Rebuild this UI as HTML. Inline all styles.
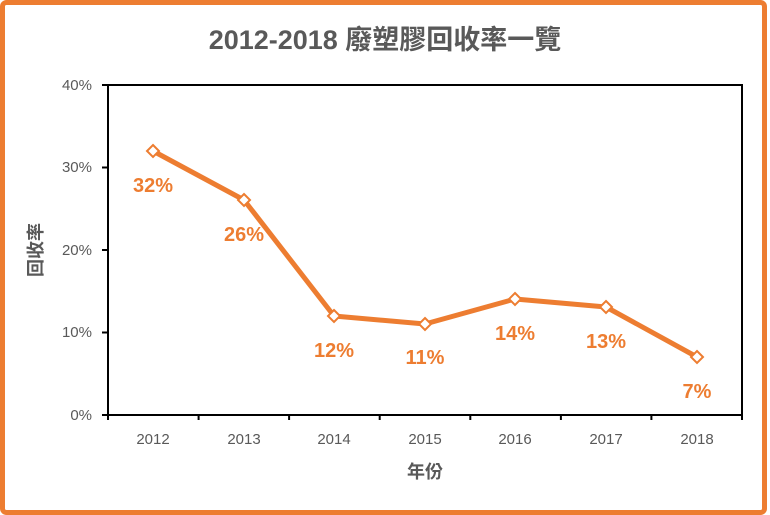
<!DOCTYPE html>
<html><head><meta charset="utf-8"><style>
body{margin:0;background:#fff;}
svg{display:block;}
text{font-family:"Liberation Sans","Noto Sans CJK TC",sans-serif;}
</style></head><body>
<svg width="770" height="515" viewBox="0 0 770 515">
<rect x="2.5" y="2.5" width="762" height="510" rx="4" fill="#fff" stroke="#ED7D31" stroke-width="5"/>
<text x="385" y="49" text-anchor="middle" font-size="27" font-weight="bold" fill="#595959">2012-2018 廢塑膠回收率一覽</text>
<g stroke="#000" stroke-width="2" fill="none">
<rect x="108" y="85" width="634" height="330"/>
<path d="M102 85H108M102 167.5H108M102 250H108M102 332.5H108M102 415H108"/>
<path d="M108 415V420M198.6 415V420M289.1 415V420M379.7 415V420M470.3 415V420M560.9 415V420M651.4 415V420M742 415V420"/>
</g>
<g font-size="15" fill="#595959" text-anchor="end">
<text x="92" y="90">40%</text><text x="92" y="172">30%</text><text x="92" y="255">20%</text><text x="92" y="337">10%</text><text x="92" y="420">0%</text>
</g>
<g font-size="15" fill="#595959" text-anchor="middle">
<text x="153" y="444">2012</text><text x="244" y="444">2013</text><text x="334" y="444">2014</text><text x="425" y="444">2015</text><text x="515" y="444">2016</text><text x="606" y="444">2017</text><text x="697" y="444">2018</text>
</g>
<text x="425" y="478" text-anchor="middle" font-size="18" font-weight="bold" fill="#595959">年份</text>
<text transform="translate(42 250) rotate(-90)" text-anchor="middle" font-size="18" font-weight="bold" fill="#595959">回收率</text>
<polyline points="153,151 244,200 334,316 425,324 515,299 606,307 697,357" fill="none" stroke="#ED7D31" stroke-width="5" stroke-linejoin="round"/>
<g fill="#fff" stroke="#ED7D31" stroke-width="2">
<path d="M153 145l6 6-6 6-6-6z"/><path d="M244 194l6 6-6 6-6-6z"/><path d="M334 310l6 6-6 6-6-6z"/><path d="M425 318l6 6-6 6-6-6z"/><path d="M515 293l6 6-6 6-6-6z"/><path d="M606 301l6 6-6 6-6-6z"/><path d="M697 351l6 6-6 6-6-6z"/>
</g>
<g font-size="20" font-weight="bold" fill="#ED7D31" text-anchor="middle">
<text x="153" y="192">32%</text><text x="244" y="241">26%</text><text x="334" y="357">12%</text><text x="425" y="364">11%</text><text x="515" y="340">14%</text><text x="606" y="348">13%</text><text x="697" y="398">7%</text>
</g>
</svg>
</body></html>
